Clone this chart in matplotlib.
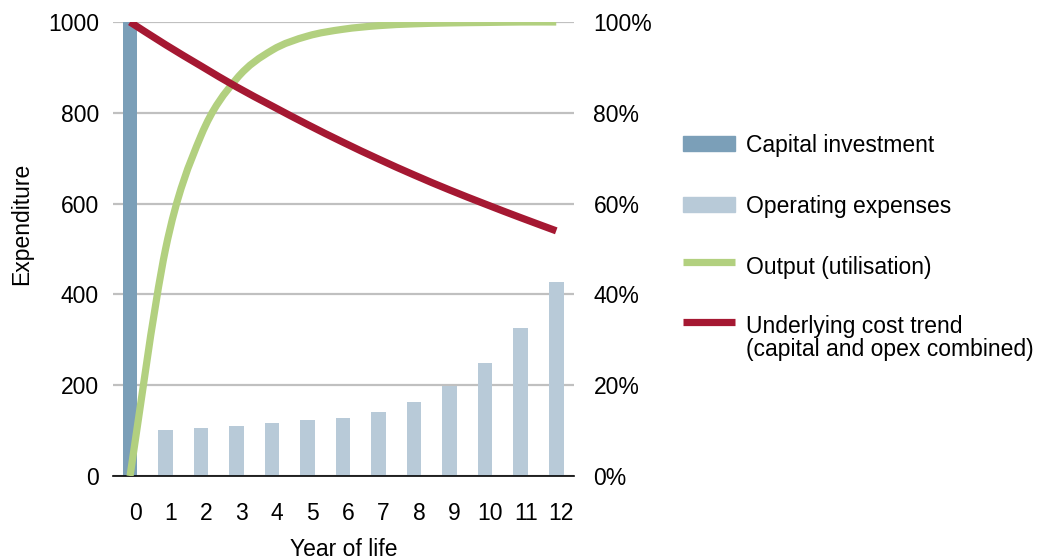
import matplotlib
matplotlib.use("Agg")
import matplotlib.pyplot as plt
from matplotlib.path import Path
from matplotlib.patches import PathPatch, Rectangle
from matplotlib.lines import Line2D
import matplotlib.transforms as mtransforms
import numpy as np

plt.rcParams['font.family'] = ['Liberation Sans', 'DejaVu Sans']

# ---------------- data ----------------
years = [0, 1, 2, 3, 4, 5, 6, 7, 8, 9, 10, 11, 12]
year_labels = [str(y) for y in years]
capital = [1000, 0, 0, 0, 0, 0, 0, 0, 0, 0, 0, 0, 0]
opex = [0, 101, 106, 111, 117, 124, 128, 141, 163, 199, 250, 327, 428]
output_pct = [0, 50, 75, 87.5, 93.8, 96.9, 98.4, 99.2, 99.6, 99.8, 99.9, 100, 100]
cost_trend_pct = [100, 95, 90.3, 85.7, 81.5, 77.4, 73.5, 69.8, 66.3, 63.0, 59.9, 56.9, 54.0]
left_ticks = [0, 200, 400, 600, 800, 1000]
right_ticks = [0, 20, 40, 60, 80, 100]
right_labels = ['0%', '20%', '40%', '60%', '80%', '100%']
legend_labels = ['Capital investment', 'Operating expenses', 'Output (utilisation)',
                 'Underlying cost trend\n(capital and opex combined)']

# ---------------- styles ----------------
C_CAP = '#7b9fb8'
C_OPEX = '#b8cad8'
C_OUT = '#b2d07f'
C_COST = '#a51832'
C_GRID = '#c0c0c0'
FS = 16.5

W, H = 1038, 559
fig = plt.figure(figsize=(W / 100, H / 100), dpi=100)


def fx(px):
    return px / W


def fy(py):
    return 1 - py / H


ax = fig.add_axes([fx(113), fy(476), fx(574) - fx(113), fy(22) - fy(476)])


def smooth_path(xs, ys):
    """Excel-style smoothed line: Catmull-Rom converted to cubic Bezier."""
    pts = np.column_stack([xs, ys]).astype(float)
    n = len(pts)
    verts = [pts[0]]
    codes = [Path.MOVETO]
    for i in range(n - 1):
        p0 = pts[i - 1] if i > 0 else pts[i]
        p1 = pts[i]
        p2 = pts[i + 1]
        p3 = pts[i + 2] if i + 2 < n else pts[i + 1]
        c1 = p1 + (p2 - p0) / 6.0
        c2 = p2 - (p3 - p1) / 6.0
        verts += [c1, c2, p2]
        codes += [Path.CURVE4] * 3
    return Path(verts, codes)


x = np.arange(len(years))
bw = 0.41
ax.bar(x, capital, width=bw, color=C_CAP, zorder=2)
ax.bar(x, opex, width=bw, color=C_OPEX, zorder=2)

ax.set_xlim(-0.48, 12.5)
ax.set_ylim(0, 1000)
ax.set_yticks(left_ticks)
ax.set_yticklabels([str(t) for t in left_ticks], fontsize=FS)
ax.set_xticks(x)
ax.set_xticklabels(year_labels, fontsize=FS)
ax.yaxis.grid(True, color=C_GRID, linewidth=1.6, zorder=0)
ax.set_axisbelow(True)
ax.tick_params(axis='both', length=0)
ax.tick_params(axis='y', pad=10)
ax.tick_params(axis='x', pad=19)
for s in ['left', 'right', 'top']:
    ax.spines[s].set_visible(False)
ax.spines['bottom'].set_color('black')
ax.spines['bottom'].set_linewidth(1.2)
ax.spines['bottom'].set_zorder(3)

offset = mtransforms.ScaledTranslation(5 / 100, 0, fig.dpi_scale_trans)
for lab in ax.get_xticklabels():
    lab.set_transform(lab.get_transform() + offset)

ax.set_xlabel('Year of life', fontsize=FS, labelpad=9)
ax.set_ylabel('Expenditure', fontsize=FS)
ax.yaxis.set_label_coords(-0.2, 0.555)
ax.yaxis.label.set_position((0, 0.555))
ax.yaxis.set_label_coords(-(113 - 22) / 461 + 0.0, 0.555)
ax.yaxis.label.set_verticalalignment('center')

ax2 = ax.twinx()
ax2.set_ylim(0, 100)
ax2.set_yticks(right_ticks)
ax2.set_yticklabels(right_labels, fontsize=FS)
ax2.tick_params(axis='y', length=0, pad=14)
for s in ax2.spines.values():
    s.set_visible(False)

ax2.add_patch(PathPatch(smooth_path(x, output_pct), facecolor='none', edgecolor=C_OUT,
                        linewidth=5.2, capstyle='butt', zorder=4))
ax2.add_patch(PathPatch(smooth_path(x, cost_trend_pct), facecolor='none', edgecolor=C_COST,
                        linewidth=5.2, capstyle='butt', zorder=5))

# ---------------- legend (manual, in figure pixel positions) ----------------
hx0, hx1, tx = 683, 735, 746
fig.add_artist(Rectangle((fx(hx0), fy(151)), fx(hx1) - fx(hx0), fy(136) - fy(151),
                         transform=fig.transFigure, color=C_CAP))
fig.add_artist(Rectangle((fx(hx0), fy(212)), fx(hx1) - fx(hx0), fy(197) - fy(212),
                         transform=fig.transFigure, color=C_OPEX))
fig.add_artist(Line2D([fx(hx0), fx(hx1)], [fy(262), fy(262)], transform=fig.transFigure,
                      color=C_OUT, linewidth=5.2, solid_capstyle='butt'))
fig.add_artist(Line2D([fx(hx0), fx(hx1)], [fy(322), fy(322)], transform=fig.transFigure,
                      color=C_COST, linewidth=5.2, solid_capstyle='butt'))
fig.text(fx(tx), fy(152), legend_labels[0], fontsize=FS, va='baseline', ha='left')
fig.text(fx(tx), fy(213), legend_labels[1], fontsize=FS, va='baseline', ha='left')
fig.text(fx(tx), fy(274), legend_labels[2], fontsize=FS, va='baseline', ha='left')
l1, l2 = legend_labels[3].split('\n')
fig.text(fx(tx), fy(333), l1, fontsize=FS, va='baseline', ha='left')
fig.text(fx(tx), fy(356), l2, fontsize=FS, va='baseline', ha='left')

fig.savefig('out.png', dpi=100)
